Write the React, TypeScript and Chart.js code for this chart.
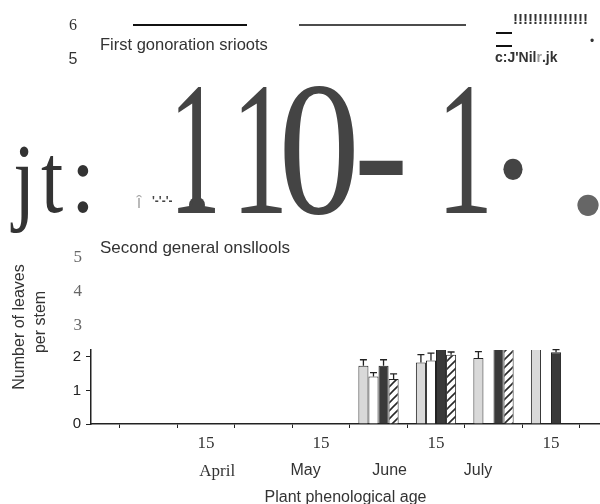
import React, { useEffect, useRef } from "react";
import { Chart, registerables } from "chart.js";

Chart.register(...registerables);

// x positions in half-month steps counted from 15 March (1 = 1 Apr, 2 = 15 Apr, ...)
const sampleDates = [5, 6, 7, 8];
const lightBars = [1.73, 1.83, 1.96, 2.45];
const whiteBars = [1.41, 1.89, null, null];
const darkBars = [1.73, 2.45, 2.45, 2.13];
const hatchedBars = [1.34, 2.06, 2.45, null];
const lightErr = [0.18, 0.23, 0.19, null];
const whiteErr = [0.12, 0.22, null, null];
const darkErr = [0.18, null, null, 0.08];
const hatchedErr = [0.15, 0.08, null, null];

const dayTicks = [0, 1, 2, 3, 4, 5, 6, 7, 8];
const dayTickLabels = ["", "", "15", "", "15", "", "15", "", "15"];
const monthTicks = [1.45, 3.5, 5.45, 7.5];
const monthLabels = ["April", "May", "June", "July"];
const yTicks = [0, 1, 2];
const upperYTicks = [3, 4, 5];
const X_MAX = 8.852;
const Y_MAX = 2.2;

const SERIF = '"Liberation Serif", "DejaVu Serif", serif';
const SANS = '"Liberation Sans", Arial, sans-serif';

function makeHatch(): CanvasPattern | string {
  const c = document.createElement("canvas");
  c.width = 8;
  c.height = 8;
  const g = c.getContext("2d");
  if (!g) return "#fff";
  g.fillStyle = "#fff";
  g.fillRect(0, 0, 8, 8);
  g.strokeStyle = "#2a2a2a";
  g.lineWidth = 1.6;
  g.beginPath();
  g.moveTo(0, 8);
  g.lineTo(8, 0);
  g.moveTo(-2, 2);
  g.lineTo(2, -2);
  g.moveTo(6, 10);
  g.lineTo(10, 6);
  g.stroke();
  return g.createPattern(c, "repeat") || "#fff";
}

function txt(
  ctx: CanvasRenderingContext2D,
  s: string,
  x: number,
  y: number,
  font: string,
  color: string,
  align: CanvasTextAlign = "left"
) {
  ctx.save();
  ctx.font = font;
  ctx.fillStyle = color;
  ctx.textAlign = align;
  ctx.textBaseline = "middle";
  ctx.fillText(s, x, y);
  ctx.restore();
}

function glyph(
  ctx: CanvasRenderingContext2D,
  s: string,
  cx: number,
  base: number,
  size: number,
  sx: number,
  color: string
) {
  ctx.save();
  ctx.translate(cx, base);
  ctx.scale(sx, 1);
  ctx.font = `${size}px ${SERIF}`;
  ctx.fillStyle = color;
  ctx.textAlign = "center";
  ctx.textBaseline = "alphabetic";
  ctx.fillText(s, 0, 0);
  ctx.restore();
}

const errors = [lightErr, whiteErr, darkErr, hatchedErr];

const errorBarPlugin = {
  id: "errorBars",
  afterDatasetsDraw(chart: any) {
    const ctx: CanvasRenderingContext2D = chart.ctx;
    const ys = chart.scales.y;
    const area = chart.chartArea;
    ctx.save();
    ctx.beginPath();
    ctx.rect(area.left, area.top - 1, area.right - area.left, area.bottom - area.top + 1);
    ctx.clip();
    ctx.strokeStyle = "#222";
    ctx.lineWidth = 1.3;
    chart.data.datasets.forEach((ds: any, i: number) => {
      const meta = chart.getDatasetMeta(i);
      meta.data.forEach((bar: any, j: number) => {
        const e = errors[i][j];
        const v = ds.data[j].y;
        if (e == null || v == null) return;
        const yTop = ys.getPixelForValue(v + e);
        const yBar = ys.getPixelForValue(v);
        ctx.beginPath();
        ctx.moveTo(bar.x, yBar);
        ctx.lineTo(bar.x, yTop);
        ctx.moveTo(bar.x - 3.5, yTop);
        ctx.lineTo(bar.x + 3.5, yTop);
        ctx.stroke();
      });
    });
    ctx.restore();
  },
};

const overlayPlugin = {
  id: "overlay",
  afterDraw(chart: any) {
    const ctx: CanvasRenderingContext2D = chart.ctx;
    const ys = chart.scales.y;

    // upper y labels (beyond the plotted range)
    upperYTicks.forEach((v) => {
      txt(ctx, String(v), 82, ys.getPixelForValue(v) + 2, `17px ${SERIF}`, "#666", "right");
    });

    // y axis title
    ctx.save();
    ctx.translate(20, 327);
    ctx.rotate(-Math.PI / 2);
    txt(ctx, "Number of leaves", 0, 0, `16px ${SANS}`, "#333", "center");
    ctx.restore();
    ctx.save();
    ctx.translate(41, 322);
    ctx.rotate(-Math.PI / 2);
    txt(ctx, "per stem", 0, 0, `16px ${SANS}`, "#333", "center");
    ctx.restore();

    // top panel remnants
    txt(ctx, "6", 73, 26, `16px ${SERIF}`, "#333", "center");
    txt(ctx, "5", 73, 60, `16px ${SANS}`, "#333", "center");
    txt(ctx, "First gonoration srioots", 100, 45, `16.5px ${SANS}`, "#333");
    ctx.save();
    ctx.strokeStyle = "#111";
    ctx.lineWidth = 2;
    ctx.beginPath();
    ctx.moveTo(133, 25);
    ctx.lineTo(247, 25);
    ctx.stroke();
    ctx.lineWidth = 1.5;
    ctx.beginPath();
    ctx.moveTo(299, 25);
    ctx.lineTo(466, 25);
    ctx.stroke();
    ctx.lineWidth = 2;
    ctx.beginPath();
    ctx.moveTo(496, 33);
    ctx.lineTo(512, 33);
    ctx.moveTo(496, 46);
    ctx.lineTo(512, 46);
    ctx.stroke();
    ctx.restore();
    txt(ctx, "!!!!!!!!!!!!!!!", 513, 20, `bold 15px ${SANS}`, "#333");
    txt(ctx, "•", 592, 42, `12px ${SANS}`, "#333", "center");
    ctx.save();
    ctx.font = `bold 14px ${SANS}`;
    const w1 = ctx.measureText("c:J'Nil").width;
    const w2 = ctx.measureText("r").width;
    ctx.restore();
    txt(ctx, "c:J'Nil", 495, 58, `bold 14px ${SANS}`, "#333");
    txt(ctx, "r", 495 + w1, 58, `bold 14px ${SANS}`, "#999");
    txt(ctx, ".jk", 495 + w1 + w2, 58, `bold 14px ${SANS}`, "#333");

    // large characters
    glyph(ctx, "j", 24, 212, 100, 0.8, "#333");
    glyph(ctx, "t", 52, 212, 100, 0.8, "#333");
    glyph(ctx, ":", 83, 212, 100, 0.9, "#333");

    txt(ctx, "î", 139, 203, `18px ${SANS}`, "#aaa", "center");
    txt(ctx, "'-'-'-", 152, 202, `bold 12px ${SANS}`, "#444");
    ctx.save();
    ctx.fillStyle = "#444";
    ctx.beginPath();
    ctx.arc(197, 205, 8, 0, Math.PI * 2);
    ctx.fill();
    ctx.restore();

    glyph(ctx, "1", 195, 213, 190, 0.55, "#444");
    glyph(ctx, "1", 260, 213, 190, 0.6, "#444");
    glyph(ctx, "0", 319, 213, 190, 0.86, "#444");
    glyph(ctx, "-", 381, 213, 190, 0.87, "#444");
    glyph(ctx, "1", 465, 213, 190, 0.6, "#444");
    glyph(ctx, "·", 513, 229, 180, 0.9, "#444");
    glyph(ctx, ".", 588, 213, 180, 1, "#666");

    // lower panel heading
    txt(ctx, "Second general onsllools", 100, 248, `17px ${SANS}`, "#333");
  },
};

export default function App() {
  const ref = useRef<HTMLCanvasElement | null>(null);

  useEffect(() => {
    if (!ref.current) return;
    const hatch = makeHatch();
    const pts = (arr: (number | null)[]) =>
      sampleDates.map((x, i) => ({ x, y: arr[i] }));
    const common = {
      borderColor: "#222",
      borderWidth: 1,
      categoryPercentage: 0.7,
      barPercentage: 1.0,
    };
    const chart = new Chart(ref.current, {
      type: "bar",
      data: {
        datasets: [
          { label: "A", data: pts(lightBars), backgroundColor: "#d9d9d9", ...common },
          { label: "B", data: pts(whiteBars), backgroundColor: "#ffffff", ...common },
          { label: "C", data: pts(darkBars), backgroundColor: "#3a3a3a", ...common },
          { label: "D", data: pts(hatchedBars), backgroundColor: hatch as any, ...common },
        ] as any,
      },
      options: {
        animation: false,
        responsive: false,
        devicePixelRatio: 1,
        layout: { padding: { top: 350, left: 0, right: 0, bottom: 0 } },
        plugins: { legend: { display: false }, tooltip: { enabled: false } },
        scales: {
          x: {
            type: "linear",
            position: "bottom",
            weight: 0,
            min: 0,
            max: X_MAX,
            offset: false,
            grid: { display: true, drawOnChartArea: false, tickLength: 4, color: "#222" },
            border: { display: true, color: "#222", width: 1.5 },
            afterBuildTicks: (s: any) => {
              s.ticks = dayTicks.map((v) => ({ value: v }));
            },
            afterFit: (s: any) => {
              s.height = 32;
            },
            ticks: {
              autoSkip: false,
              maxRotation: 0,
              padding: 5,
              color: "#333",
              font: { family: SERIF, size: 17 },
              callback: (_v: any, i: number) => dayTickLabels[i],
            },
          },
          xMonth: {
            type: "linear",
            position: "bottom",
            weight: 1,
            min: 0,
            max: X_MAX,
            grid: { display: false, drawTicks: false, tickLength: 0 },
            border: { display: false },
            afterBuildTicks: (s: any) => {
              s.ticks = monthTicks.map((v) => ({ value: v }));
            },
            afterFit: (s: any) => {
              s.height = 48;
            },
            ticks: {
              autoSkip: false,
              maxRotation: 0,
              padding: 5,
              color: "#333",
              font: (c: any) =>
                c.index === 0 ? { family: SERIF, size: 17 } : { family: SANS, size: 16 },
              callback: (_v: any, i: number) => monthLabels[i],
            },
            title: {
              display: true,
              text: "Plant phenological age",
              color: "#333",
              font: { family: SANS, size: 16 },
              padding: { top: 0, bottom: -3 },
            },
          },
          y: {
            type: "linear",
            min: 0,
            max: Y_MAX,
            grid: { display: true, drawOnChartArea: false, tickLength: 5, color: "#222" },
            border: { display: true, color: "#222", width: 1.5 },
            afterBuildTicks: (s: any) => {
              s.ticks = yTicks.map((v) => ({ value: v }));
            },
            afterFit: (s: any) => {
              s.width = 91;
            },
            ticks: {
              padding: 5,
              color: "#222",
              font: { family: SANS, size: 15 },
            },
          },
        },
      } as any,
      plugins: [errorBarPlugin, overlayPlugin],
    });
    return () => chart.destroy();
  }, []);

  return (
    <div style={{ position: "absolute", left: 0, top: 0, width: 600, height: 504, background: "#fff" }}>
      <canvas ref={ref} width={600} height={504} style={{ display: "block" }} />
    </div>
  );
}
